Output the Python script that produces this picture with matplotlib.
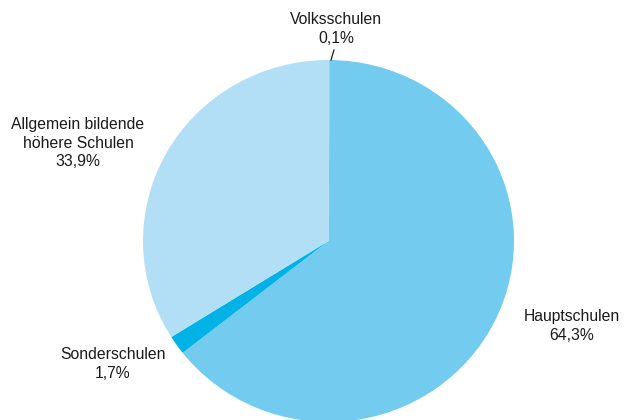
import matplotlib
matplotlib.use("Agg")
import matplotlib.pyplot as plt

schools = ["Volksschulen", "Hauptschulen", "Sonderschulen", "Allgemein bildende\nhöhere Schulen"]
shares = [0.1, 64.3, 1.7, 33.9]
share_labels = ["0,1%", "64,3%", "1,7%", "33,9%"]
colors = ["#73CBEF", "#73CBEF", "#00B2E6", "#B2DFF5"]

plt.rcParams['font.family'] = ['Liberation Sans Narrow', 'Liberation Sans', 'DejaVu Sans']

W, H = 624, 420
fig = plt.figure(figsize=(W / 100, H / 100), dpi=100)

# pie box in pixels (slightly wider than tall in the original)
left, right, top, bottom = 143, 514, 60, 422
ax = fig.add_axes([left / W, 1 - bottom / H, (right - left) / W, (bottom - top) / H])
ax.pie(shares, colors=colors, startangle=90, counterclock=False, radius=1,
       wedgeprops=dict(linewidth=0))
ax.set_aspect('auto')
ax.set_xlim(-1, 1)
ax.set_ylim(-1, 1)

def px(x, y):
    return x / W, 1 - y / H

label_pos = [(336, 29), (572, 326), (113, 364), (78, 143)]
for name, lab, (x, y) in zip(schools, share_labels, label_pos):
    fig.text(*px(x, y), name + "\n" + lab, ha='center', va='center',
             fontsize=11.3, color='#1a1a1a', linespacing=1.3)

# leader line for the tiny slice
fig.add_artist(plt.Line2D([331 / W, 334 / W], [1 - 60 / H, 1 - 50 / H],
                          color='#1a1a1a', linewidth=0.9))

fig.savefig("out.png", dpi=100)
